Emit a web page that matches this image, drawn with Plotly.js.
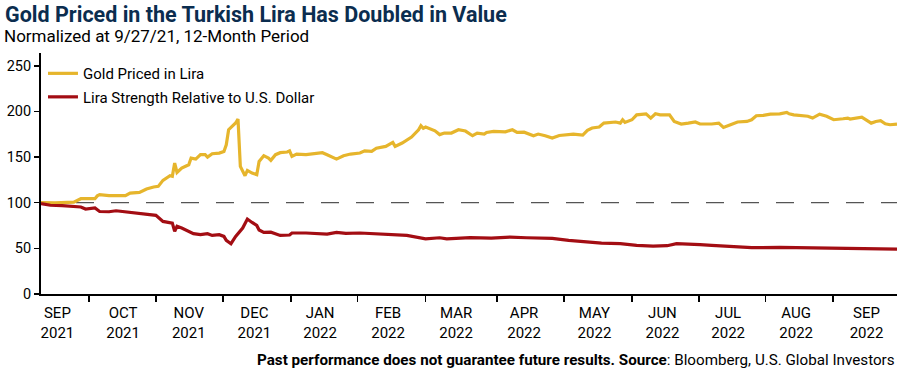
<!DOCTYPE html>
<html>
<head>
<meta charset="utf-8">
<script src="https://cdn.plot.ly/plotly-3.0.1.min.js"></script>
<style>html,body{margin:0;padding:0;background:#fff;}#chart{width:900px;height:368px;}</style>
</head>
<body>
<div id="chart"></div>
<script>
// ---- Data ----
const goldDates = ['2021-09-27','2021-10-03','2021-10-11','2021-10-14','2021-10-20','2021-10-21','2021-10-22','2021-10-26','2021-11-02','2021-11-04','2021-11-08','2021-11-11','2021-11-14','2021-11-16','2021-11-18','2021-11-21','2021-11-22','2021-11-23','2021-11-24','2021-11-26','2021-11-29','2021-11-30','2021-12-02','2021-12-04','2021-12-06','2021-12-07','2021-12-09','2021-12-12','2021-12-14','2021-12-15','2021-12-16','2021-12-19','2021-12-20','2021-12-21','2021-12-23','2021-12-24','2021-12-26','2021-12-28','2021-12-29','2021-12-31','2022-01-02','2022-01-03','2022-01-05','2022-01-07','2022-01-10','2022-01-11','2022-01-12','2022-01-14','2022-01-18','2022-01-25','2022-01-27','2022-01-31','2022-02-03','2022-02-06','2022-02-10','2022-02-12','2022-02-15','2022-02-17','2022-02-21','2022-02-24','2022-02-25','2022-02-28','2022-03-04','2022-03-07','2022-03-08','2022-03-09','2022-03-10','2022-03-14','2022-03-16','2022-03-18','2022-03-21','2022-03-24','2022-03-27','2022-03-30','2022-04-01','2022-04-04','2022-04-05','2022-04-08','2022-04-13','2022-04-16','2022-04-18','2022-04-21','2022-04-25','2022-04-27','2022-04-30','2022-05-03','2022-05-06','2022-05-10','2022-05-12','2022-05-16','2022-05-18','2022-05-20','2022-05-23','2022-05-25','2022-05-30','2022-06-01','2022-06-02','2022-06-03','2022-06-06','2022-06-08','2022-06-12','2022-06-14','2022-06-16','2022-06-18','2022-06-22','2022-06-24','2022-06-27','2022-06-30','2022-07-03','2022-07-05','2022-07-10','2022-07-13','2022-07-15','2022-07-18','2022-07-21','2022-07-25','2022-07-27','2022-07-29','2022-08-01','2022-08-04','2022-08-08','2022-08-11','2022-08-12','2022-08-14','2022-08-18','2022-08-20','2022-08-22','2022-08-25','2022-08-28','2022-08-31','2022-09-04','2022-09-06','2022-09-07','2022-09-10','2022-09-12','2022-09-16','2022-09-18','2022-09-20','2022-09-22','2022-09-24','2022-09-27'];
const goldValues = [100,99.8,100.7,104.4,104.4,107.5,108.8,107.7,107.7,110.6,111.3,115.0,117.2,117.9,124.5,129.6,128.9,143.4,133.2,137.9,141.6,148.9,147.8,152.6,152.6,150.0,153.7,154.4,156.2,163.5,180.0,187.3,191.6,139.8,129.6,135.4,132.5,130.7,145.3,151.5,148.8,146.4,152.6,154.8,155.5,156.8,150.8,153.3,152.6,154.8,152.6,147.8,151.5,153.3,154.4,156.8,156.2,159.7,161.7,166.1,161.7,165.4,171.9,179.9,184.3,181.5,182.9,178.8,174.6,176.3,176.3,179.9,178.5,173.4,176.3,175.2,177.0,178.1,177.7,179.9,177.0,177.3,173.4,175.2,173.4,170.8,173.6,174.1,175.2,174.1,179.2,181.8,182.9,187.2,188.4,187.2,190.9,188.0,190.9,196.3,197.4,192.7,197.4,196.3,196.3,189.0,186.2,187.2,188.4,186.2,186.2,187.2,182.5,185.5,188.4,189.0,190.9,195.3,195.7,197.0,197.4,198.9,197.4,196.3,194.7,194.7,192.7,197.0,194.7,190.9,192.0,192.7,191.6,193.4,193.8,187.2,189.0,189.8,186.4,185.4,186.2];

const liraDates = ['2021-09-27','2021-10-01','2021-10-06','2021-10-11','2021-10-14','2021-10-16','2021-10-18','2021-10-20','2021-10-22','2021-10-26','2021-10-29','2021-11-03','2021-11-05','2021-11-09','2021-11-14','2021-11-15','2021-11-18','2021-11-22','2021-11-23','2021-11-24','2021-11-26','2021-11-29','2021-12-01','2021-12-04','2021-12-07','2021-12-09','2021-12-12','2021-12-14','2021-12-15','2021-12-17','2021-12-19','2021-12-22','2021-12-24','2021-12-26','2021-12-28','2021-12-29','2021-12-31','2022-01-03','2022-01-07','2022-01-11','2022-01-12','2022-01-18','2022-01-27','2022-01-31','2022-02-04','2022-02-10','2022-02-15','2022-02-21','2022-02-26','2022-03-02','2022-03-10','2022-03-16','2022-03-19','2022-03-29','2022-04-07','2022-04-15','2022-04-22','2022-05-03','2022-05-10','2022-05-18','2022-05-24','2022-06-01','2022-06-08','2022-06-15','2022-06-21','2022-06-25','2022-06-30','2022-07-05','2022-07-10','2022-07-17','2022-07-27','2022-08-08','2022-08-22','2022-09-05','2022-09-19','2022-09-27'];
const liraValues = [99,97.2,96.7,95.3,95.3,93.1,93.4,94.2,90.4,90.1,91.2,89.7,89.4,88.6,86.9,86.2,79.5,77.7,68.6,74.1,72.2,68.6,66.1,65.0,66.1,64.2,65.0,63.1,58.7,55.1,63.1,72.2,82.1,78.4,75.1,70.1,67.4,67.7,64.2,64.6,66.8,66.8,65.7,67.4,66.4,66.8,66.1,65.7,64.2,64.2,60.5,61.6,60.5,61.7,61.3,62.4,61.6,60.9,58.7,56.9,55.8,55.1,53.3,52.5,52.9,55.1,54.8,54.0,53.3,52.2,50.7,51.1,50.4,50.0,49.6,49.2];

const seriesNames = ['Gold Priced in Lira', 'Lira Strength Relative to U.S. Dollar'];
const baselineValue = 100;

// Axis labels
const monthTickDates = ['2021-10-17 12:00','2021-11-15','2021-12-13 14:00','2022-01-11 14:00','2022-02-09','2022-03-10','2022-04-09 10:00','2022-05-08','2022-06-06','2022-07-04 14:00','2022-08-02','2022-08-30 17:00'];
const monthLabelDates = ['2021-10-04','2021-11-01','2021-11-29','2021-12-27','2022-01-24','2022-02-22','2022-03-23','2022-04-21','2022-05-21','2022-06-19','2022-07-17','2022-08-15','2022-09-14'];
const monthLabels = ['SEP<br>2021','OCT<br>2021','NOV<br>2021','DEC<br>2021','JAN<br>2022','FEB<br>2022','MAR<br>2022','APR<br>2022','MAY<br>2022','JUN<br>2022','JUL<br>2022','AUG<br>2022','SEP<br>2022'];
const yTicks = [0, 50, 100, 150, 200, 250];
const xRange = ['2021-09-27', '2022-09-27'];

const FONT = 'Roboto, "Open Sans", sans-serif';

const traces = [
  {x: goldDates, y: goldValues, name: seriesNames[0], type: 'scatter', mode: 'lines',
   line: {color: '#E6B52C', width: 3.2}, legendgroup: 'g1', xaxis: 'x'},
  {x: liraDates, y: liraValues, name: seriesNames[1], type: 'scatter', mode: 'lines',
   line: {color: '#A30D13', width: 3.2}, legendgroup: 'g2', xaxis: 'x2'}
];

const layout = {
  width: 900, height: 368,
  margin: {l: 41, r: 3, t: 53, b: 74},
  paper_bgcolor: '#fff', plot_bgcolor: '#fff',
  font: {family: FONT, color: '#000', size: 14},
  showlegend: true,
  title: {
    text: '<b>Gold Priced in the Turkish Lira Has Doubled in Value</b>',
    font: {family: FONT, size: 21.5, color: '#0B2D4F'},
    xref: 'container', x: 0.0056, xanchor: 'left',
    yref: 'container', y: 0.98, yanchor: 'top'
  },
  legend: {
    x: 0.0023, y: 0.983, xanchor: 'left', yanchor: 'top',
    bgcolor: 'rgba(0,0,0,0)', font: {family: FONT, size: 15, color: '#000'},
    tracegroupgap: 1, traceorder: 'grouped'
  },
  xaxis: {
    type: 'date', range: xRange, showgrid: false, zeroline: false,
    showline: true, linecolor: '#000', linewidth: 2,
    ticks: 'outside', ticklen: 6, tickwidth: 1.5, tickcolor: '#000',
    tickmode: 'array', tickvals: monthTickDates, showticklabels: false
  },
  xaxis2: {
    type: 'date', range: xRange, overlaying: 'x', anchor: 'y', side: 'bottom',
    showgrid: false, zeroline: false, showline: false, ticks: '',
    tickmode: 'array', tickvals: monthLabelDates, ticktext: monthLabels,
    tickfont: {family: FONT, size: 15, color: '#000'}, ticklabelstandoff: 8
  },
  yaxis: {
    range: [0, 264], tickmode: 'array', tickvals: yTicks,
    showgrid: false, zeroline: false, showline: true, linecolor: '#000', linewidth: 2,
    ticks: 'outside', ticklen: 5, tickwidth: 1.5, tickcolor: '#000',
    tickfont: {family: FONT, size: 14.5, color: '#000'}
  },
  shapes: [{
    type: 'line', xref: 'paper', x0: 0, x1: 1, yref: 'y', y0: baselineValue, y1: baselineValue,
    line: {color: '#555', width: 1.2, dash: '18px,17px'}, layer: 'below'
  }],
  annotations: [
    {text: 'Normalized at 9/27/21, 12-Month Period', xref: 'paper', yref: 'paper',
     x: -41/856, y: 1 + 17/241, xanchor: 'left', yanchor: 'middle', showarrow: false,
     font: {family: FONT, size: 17, color: '#000'}, xshift: 2},
    {text: '<b>Past performance does not guarantee future results. Source</b>: Bloomberg, U.S. Global Investors',
     xref: 'paper', yref: 'paper', x: 1, y: -66/241, xanchor: 'right', yanchor: 'middle', showarrow: false,
     font: {family: FONT, size: 15.2, color: '#000'}}
  ]
};

Plotly.newPlot('chart', traces, layout, {displayModeBar: false, staticPlot: true});
</script>
</body>
</html>
